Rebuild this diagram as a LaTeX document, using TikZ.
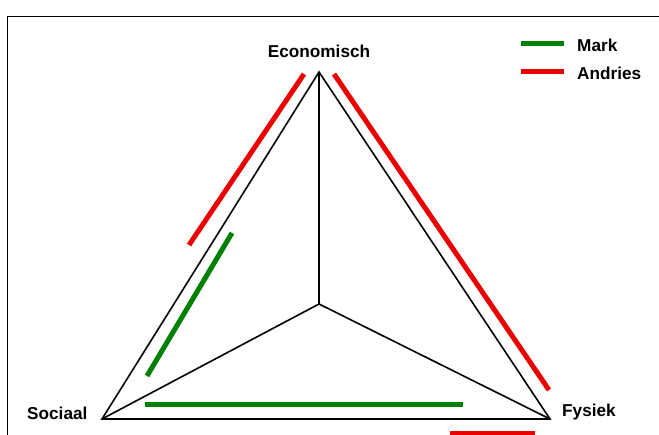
\documentclass[tikz,border=0pt]{standalone}
\usepackage{fontspec}
\setmainfont{Liberation Sans}
\definecolor{mgreen}{RGB}{0,128,0}
\definecolor{ared}{RGB}{235,0,0}
\begin{document}
\begin{tikzpicture}[x=1pt,y=-1pt,
  lbl/.style={font=\fontsize{17.2}{19}\selectfont\bfseries, inner sep=0pt},
  edge/.style={draw=black, line width=1.6pt},
  markbar/.style={draw=mgreen, line width=5pt},
  andbar/.style={draw=ared, line width=5pt}]
\useasboundingbox (0,0) rectangle (659,435);
\draw[line width=1.8pt] (7.5,440) -- (7.5,16.5) -- (665,16.5);
% vertices
\coordinate (E) at (319,72);
\coordinate (S) at (102,419);
\coordinate (F) at (550,419);
\coordinate (C) at (319,304);
\draw[edge] (E) -- (S) -- (F) -- cycle;
\draw[edge] (C) -- (E);
\draw[edge] (C) -- (S);
\draw[edge] (C) -- (F);
% labels
\node[lbl] (le) at (319,51) {Economisch};
\node[lbl, anchor=west] (ls) at (27,413) {Sociaal};
\node[lbl, anchor=west] (lf) at (562,412) {Fysiek};
% colored bars
\draw[markbar] (147,376) -- (232,233);
\draw[markbar] (145,405) -- (463,405);
\draw[andbar] (189,245) -- (304,74);
\draw[andbar] (334,74) -- (549,390);
\draw[andbar] (450,434) -- (535,434);
% legend
\draw[markbar] (521,44) -- (564,44);
\draw[andbar] (521,72) -- (564,72);
\node[lbl, anchor=west] (lm) at (577,45) {Mark};
\node[lbl, anchor=west] (la) at (577,73) {Andries};
\end{tikzpicture}
\end{document}
